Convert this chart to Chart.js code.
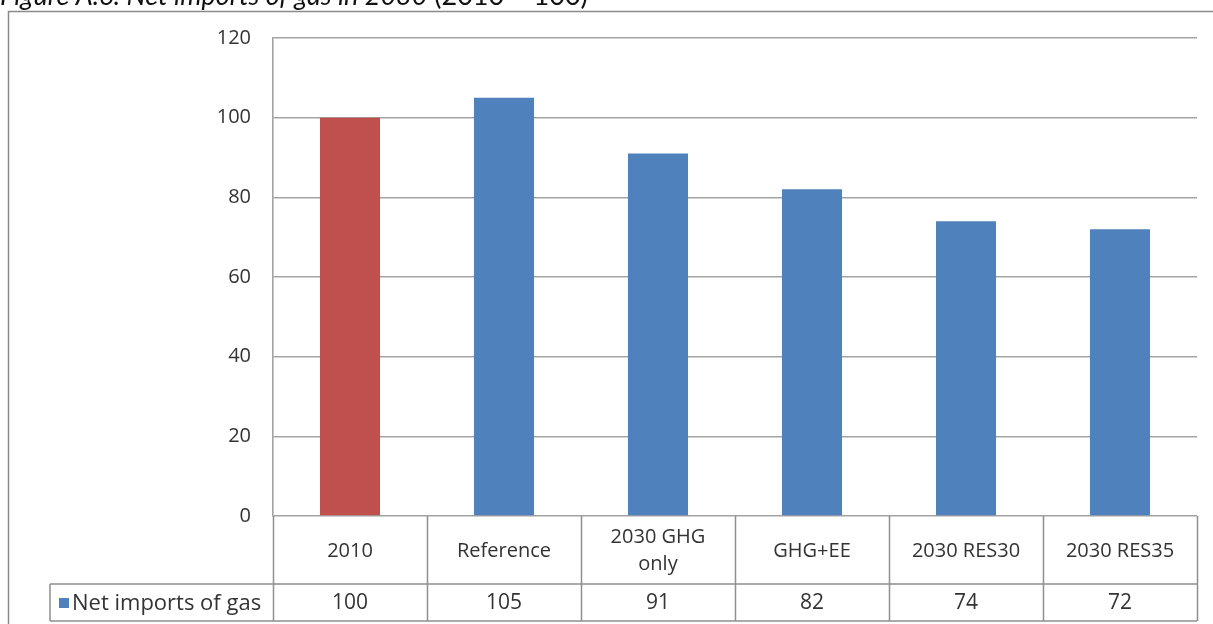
<!DOCTYPE html>
<html>
<head>
<meta charset="utf-8">
<script src="https://cdn.jsdelivr.net/npm/chart.js@4/dist/chart.umd.min.js"></script>
<style>
  html, body { margin: 0; padding: 0; background: #fff; }
  canvas { display: block; }
</style>
</head>
<body>
<canvas id="c" width="1213" height="624"></canvas>
<script>
// Net imports of gas in 2030, indexed to 2010 = 100
const titleMain = 'Figure A.6: Net imports of gas in 2030';
const titleNote = ' (2010 = 100)';
const seriesName = 'Net imports of gas';
const categories = ['2010', 'Reference', ['2030 GHG', 'only'], 'GHG+EE', '2030 RES30', '2030 RES35'];
const netImports = [100, 105, 91, 82, 74, 72];
const yTicks = [0, 20, 40, 60, 80, 100, 120];

const RED = '#C0504D';
const BLUE = '#4F81BD';
const LINE = '#8f8f8f';
const TEXT = '#333333';
const FONT = '"Open Sans", "Noto Sans", sans-serif';
const TITLE_FONT = 'Lato, "Open Sans", sans-serif';

// Frame, caption and data table drawn around the plot using the chart's own scales
const tablePlugin = {
  id: 'dataTable',
  afterDraw(chart) {
    const ctx = chart.ctx;
    const x = chart.scales.x;
    const area = chart.chartArea;
    const n = categories.length;
    const step = (area.right - area.left) / n;
    const rowTop = area.bottom;
    const rowMid = 584;
    const rowBot = 621;
    const legendLeft = 50;

    ctx.save();
    // outer frame
    ctx.strokeStyle = '#8a8a8a';
    ctx.lineWidth = 1.5;
    ctx.strokeRect(8.5, 11.5, 1400, 800);

    // caption above the frame, clipped by the page top
    ctx.fillStyle = '#111';
    ctx.textAlign = 'left';
    ctx.textBaseline = 'alphabetic';
    const size = 27;
    ctx.font = 'italic ' + size + 'px ' + TITLE_FONT;
    ctx.fillText(titleMain, 0, 5);
    const w = ctx.measureText(titleMain).width;
    ctx.font = size + 'px ' + TITLE_FONT;
    ctx.fillText(titleNote, w, 5);

    // table grid
    ctx.strokeStyle = LINE;
    ctx.lineWidth = 1.5;
    ctx.beginPath();
    ctx.moveTo(legendLeft, rowMid); ctx.lineTo(area.right, rowMid);
    ctx.moveTo(legendLeft, rowBot); ctx.lineTo(area.right, rowBot);
    ctx.moveTo(legendLeft, rowMid); ctx.lineTo(legendLeft, rowBot);
    for (let i = 0; i <= n; i++) {
      const bx = Math.round(area.left + i * step) + 0.5;
      ctx.moveTo(bx, rowTop); ctx.lineTo(bx, rowBot);
    }
    ctx.stroke();

    // category labels and values
    ctx.fillStyle = TEXT;
    ctx.textAlign = 'center';
    ctx.textBaseline = 'middle';
    categories.forEach((c, i) => {
      const cx = x.getPixelForValue(i);
      const lines = Array.isArray(c) ? c : [c];
      const lh = 27;
      const cy = (rowTop + rowMid) / 2 + 1;
      ctx.font = '20px ' + FONT;
      lines.forEach((t, k) => {
        ctx.fillText(t, cx, cy + (k - (lines.length - 1) / 2) * lh);
      });
      ctx.font = '21px ' + FONT;
      ctx.fillText(String(netImports[i]), cx, (rowMid + rowBot) / 2 + 1);
    });

    // legend key in the first column
    ctx.fillStyle = BLUE;
    ctx.fillRect(59, 598, 10, 10);
    ctx.fillStyle = TEXT;
    ctx.textAlign = 'left';
    ctx.font = '22px ' + FONT;
    ctx.fillText(seriesName, 72, (rowMid + rowBot) / 2 + 1);
    ctx.restore();
  }
};

new Chart(document.getElementById('c'), {
  type: 'bar',
  data: {
    labels: categories,
    datasets: [{
      label: seriesName,
      data: netImports,
      backgroundColor: netImports.map((v, i) => i === 0 ? RED : BLUE),
      borderWidth: 0,
      barPercentage: 1,
      categoryPercentage: 0.39
    }]
  },
  options: {
    responsive: false,
    animation: false,
    layout: { padding: { left: 0, right: 16, top: 38, bottom: 108 } },
    plugins: { legend: { display: false }, tooltip: { enabled: false }, title: { display: false } },
    scales: {
      x: { display: false, offset: true },
      y: {
        min: 0, max: 120,
        afterBuildTicks(s) { s.ticks = yTicks.map(v => ({ value: v })); },
        afterFit(s) { s.width = 273; },
        grid: { color: '#a3a3a3', lineWidth: 1.6, drawTicks: false },
        border: { color: '#a3a3a3', width: 1.6 },
        ticks: { padding: 22, color: TEXT, font: { family: FONT, size: 20 } }
      }
    }
  },
  plugins: [tablePlugin]
});
</script>
</body>
</html>
